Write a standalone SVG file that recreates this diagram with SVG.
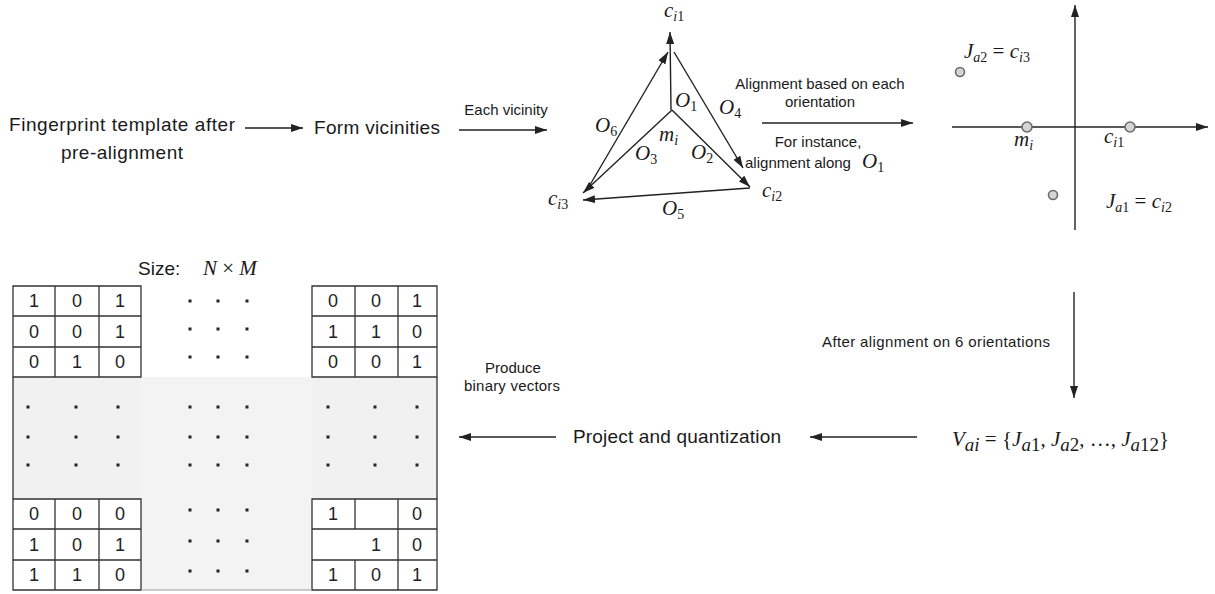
<svg xmlns="http://www.w3.org/2000/svg" width="1215" height="594" viewBox="0 0 1215 594">
<style>
.t{font-family:"Liberation Sans",Arial,sans-serif;font-size:19px;fill:#1a1a1a}
.s{font-family:"Liberation Sans",Arial,sans-serif;font-size:15px;fill:#1a1a1a}
.m{font-family:"Liberation Serif","Times New Roman",serif;font-style:italic;font-size:21px;fill:#1a1a1a}
.sub{font-size:14px}
.up{font-style:normal}
.ar{stroke:#222;stroke-width:1.4;fill:none;marker-end:url(#ah)}
.grid{stroke:#333;stroke-width:1.3;fill:none}
.d{font-family:"Liberation Sans",Arial,sans-serif;font-size:18px;fill:#222;text-anchor:middle}
.pt{fill:#d4d4d4;stroke:#6a6a6a;stroke-width:1.6}
.dot{fill:#222}
.c{text-anchor:middle}
</style>
<defs>
<marker id="ah" viewBox="0 0 12 8" refX="12" refY="4" markerWidth="12" markerHeight="8" markerUnits="userSpaceOnUse" orient="auto"><path d="M0,0 L12,4 L0,8 z" fill="#222"/></marker>
</defs>
<rect width="1215" height="594" fill="#fff"/>

<g id="template">
<text class="t c" x="122" y="131" textLength="226">Fingerprint template after</text>
<text class="t c" x="122" y="159" textLength="122">pre-alignment</text>
</g>

<g id="form-vicinities">
<text class="t c" x="377" y="134" textLength="126">Form vicinities</text>
</g>

<g id="vicinity">
<line class="ar" x1="671" y1="110" x2="670" y2="32"/>
<line class="ar" x1="672" y1="110" x2="750" y2="187"/>
<line class="ar" x1="672" y1="110" x2="583" y2="193"/>
<line class="ar" x1="674" y1="52" x2="743" y2="168"/>
<line class="ar" x1="750" y1="188" x2="583" y2="200"/>
<line class="ar" x1="587" y1="190" x2="668" y2="52"/>
<text class="m" x="664" y="17" font-size="20">c<tspan class="sub" dy="4">i</tspan><tspan class="sub up">1</tspan></text>
<text class="m" x="675" y="107">O<tspan class="sub up" dy="4">1</tspan></text>
<text class="m" x="719" y="114">O<tspan class="sub up" dy="4">4</tspan></text>
<text class="m" x="595" y="132">O<tspan class="sub up" dy="4">6</tspan></text>
<text class="m" x="659" y="141" font-size="19">m<tspan class="sub" dy="4">i</tspan></text>
<text class="m" x="635" y="160">O<tspan class="sub up" dy="4">3</tspan></text>
<text class="m" x="691" y="159">O<tspan class="sub up" dy="4">2</tspan></text>
<text class="m" x="548" y="205">c<tspan class="sub" dy="4">i</tspan><tspan class="sub up">3</tspan></text>
<text class="m" x="762" y="197">c<tspan class="sub" dy="4">i</tspan><tspan class="sub up">2</tspan></text>
<text class="m" x="662" y="215">O<tspan class="sub up" dy="4">5</tspan></text>
</g>

<g id="aligned-plot">
<line class="ar" x1="1075" y1="230" x2="1075" y2="5"/>
<line class="ar" x1="952" y1="127" x2="1208" y2="127"/>
<circle class="pt" cx="960" cy="72" r="4.5"/>
<circle class="pt" cx="1027" cy="127" r="5"/>
<circle class="pt" cx="1130" cy="127" r="5"/>
<circle class="pt" cx="1053" cy="195" r="4.5"/>
<text class="m" x="964" y="58" font-size="22">J<tspan class="sub" dy="4">a</tspan><tspan class="sub up">2</tspan><tspan class="up" dy="-4"> = </tspan>c<tspan class="sub" dy="4">i</tspan><tspan class="sub up">3</tspan></text>
<text class="m" x="1014" y="146" font-size="22">m<tspan class="sub" dy="4">i</tspan></text>
<text class="m" x="1104" y="143" font-size="22">c<tspan class="sub" dy="4">i</tspan><tspan class="sub up">1</tspan></text>
<text class="m" x="1106" y="208" font-size="22">J<tspan class="sub" dy="4">a</tspan><tspan class="sub up">1</tspan><tspan class="up" dy="-4"> = </tspan>c<tspan class="sub" dy="4">i</tspan><tspan class="sub up">2</tspan></text>
</g>

<g id="vector">
<text class="m" x="952" y="446" font-size="30">V<tspan font-size="19" dy="5">ai</tspan><tspan class="up" dy="-5"> = {</tspan>J<tspan font-size="19" dy="5">a</tspan><tspan font-size="19" class="up">1</tspan><tspan class="up" dy="-5">, </tspan>J<tspan font-size="19" dy="5">a</tspan><tspan font-size="19" class="up">2</tspan><tspan class="up" dy="-5">, …, </tspan>J<tspan font-size="19" dy="5">a</tspan><tspan font-size="19" class="up">12</tspan><tspan class="up" dy="-5">}</tspan></text>
</g>

<g id="project">
<text class="t c" x="677" y="443" textLength="208">Project and quantization</text>
</g>

<g id="matrix">
<text class="t" x="138" y="275">Size:</text>
<text class="m" x="203" y="275" font-size="24">N<tspan class="up"> × </tspan>M</text>
<rect x="13" y="377" width="424" height="122" fill="#f1f1f1"/>
<rect x="141" y="377" width="171" height="213" fill="#f3f3f3"/>
<path class="grid" d="M13,286H141V377H13Z M55,286V377 M99,286V377 M13,316H141 M13,347H141"/>
<path class="grid" d="M312,286H437V377H312Z M355,286V377 M398,286V377 M312,316H437 M312,347H437"/>
<path class="grid" d="M13,499H141V590H13Z M55,499V590 M99,499V590 M13,529H141 M13,560H141"/>
<path class="grid" d="M312,499H437V590H312Z M355,499V529 M355,560V590 M398,499V590 M312,529H437 M312,560H437"/>
<path class="grid" d="M13,377V499 M437,377V499"/>
<path d="M141,590H312" stroke="#999" stroke-width="1.2"/>
<text class="d" x="34" y="307">1</text><text class="d" x="77" y="307">0</text><text class="d" x="120" y="307">1</text>
<text class="d" x="34" y="338">0</text><text class="d" x="77" y="338">0</text><text class="d" x="120" y="338">1</text>
<text class="d" x="34" y="368">0</text><text class="d" x="77" y="368">1</text><text class="d" x="120" y="368">0</text>
<text class="d" x="333" y="307">0</text><text class="d" x="376" y="307">0</text><text class="d" x="417" y="307">1</text>
<text class="d" x="333" y="338">1</text><text class="d" x="376" y="338">1</text><text class="d" x="417" y="338">0</text>
<text class="d" x="333" y="368">0</text><text class="d" x="376" y="368">0</text><text class="d" x="417" y="368">1</text>
<text class="d" x="34" y="520">0</text><text class="d" x="77" y="520">0</text><text class="d" x="120" y="520">0</text>
<text class="d" x="34" y="551">1</text><text class="d" x="77" y="551">0</text><text class="d" x="120" y="551">1</text>
<text class="d" x="34" y="581">1</text><text class="d" x="77" y="581">1</text><text class="d" x="120" y="581">0</text>
<text class="d" x="333" y="520">1</text><text class="d" x="417" y="520">0</text>
<text class="d" x="376" y="551">1</text><text class="d" x="417" y="551">0</text>
<text class="d" x="333" y="581">1</text><text class="d" x="376" y="581">0</text><text class="d" x="417" y="581">1</text>
<g class="dot">
<rect x="188.5" y="299.5" width="3" height="3"/><rect x="216.5" y="299.5" width="3" height="3"/><rect x="245.5" y="299.5" width="3" height="3"/>
<rect x="188.5" y="327.5" width="3" height="3"/><rect x="216.5" y="327.5" width="3" height="3"/><rect x="245.5" y="327.5" width="3" height="3"/>
<rect x="188.5" y="355.5" width="3" height="3"/><rect x="216.5" y="355.5" width="3" height="3"/><rect x="245.5" y="355.5" width="3" height="3"/>
<rect x="26.5" y="405.5" width="3" height="3"/><rect x="74.5" y="405.5" width="3" height="3"/><rect x="116.5" y="405.5" width="3" height="3"/>
<rect x="188.5" y="405.5" width="3" height="3"/><rect x="216.5" y="405.5" width="3" height="3"/><rect x="245.5" y="405.5" width="3" height="3"/>
<rect x="326.5" y="405.5" width="3" height="3"/><rect x="373.5" y="405.5" width="3" height="3"/><rect x="415.5" y="405.5" width="3" height="3"/>
<rect x="26.5" y="435.5" width="3" height="3"/><rect x="74.5" y="435.5" width="3" height="3"/><rect x="116.5" y="435.5" width="3" height="3"/>
<rect x="188.5" y="435.5" width="3" height="3"/><rect x="216.5" y="435.5" width="3" height="3"/><rect x="245.5" y="435.5" width="3" height="3"/>
<rect x="326.5" y="435.5" width="3" height="3"/><rect x="373.5" y="435.5" width="3" height="3"/><rect x="415.5" y="435.5" width="3" height="3"/>
<rect x="26.5" y="463.5" width="3" height="3"/><rect x="74.5" y="463.5" width="3" height="3"/><rect x="116.5" y="463.5" width="3" height="3"/>
<rect x="188.5" y="463.5" width="3" height="3"/><rect x="216.5" y="463.5" width="3" height="3"/><rect x="245.5" y="463.5" width="3" height="3"/>
<rect x="326.5" y="463.5" width="3" height="3"/><rect x="373.5" y="463.5" width="3" height="3"/><rect x="415.5" y="463.5" width="3" height="3"/>
<rect x="188.5" y="508.5" width="3" height="3"/><rect x="216.5" y="508.5" width="3" height="3"/><rect x="245.5" y="508.5" width="3" height="3"/>
<rect x="188.5" y="539.5" width="3" height="3"/><rect x="216.5" y="539.5" width="3" height="3"/><rect x="245.5" y="539.5" width="3" height="3"/>
<rect x="188.5" y="569.5" width="3" height="3"/><rect x="216.5" y="569.5" width="3" height="3"/><rect x="245.5" y="569.5" width="3" height="3"/>
</g>
</g>

<g id="connectors">
<line class="ar" x1="245" y1="128" x2="303" y2="128"/>
<line class="ar" x1="459" y1="130" x2="547" y2="130"/>
<text class="s c" x="506" y="115">Each vicinity</text>
<line class="ar" x1="762" y1="123" x2="913" y2="123"/>
<text class="s c" x="820" y="89">Alignment based on each</text>
<text class="s c" x="820" y="107">orientation</text>
<text class="s c" x="818" y="147">For instance,</text>
<text class="s c" x="798" y="168">alignment along</text>
<text class="m" x="862" y="168" font-size="22">O<tspan class="sub up" dy="4">1</tspan></text>
<line class="ar" x1="1074" y1="292" x2="1074" y2="398"/>
<text class="s c" x="936" y="347" textLength="228">After alignment on 6 orientations</text>
<line class="ar" x1="917" y1="437" x2="810" y2="437"/>
<line class="ar" x1="556" y1="437" x2="459" y2="437"/>
<text class="s c" x="513" y="373" font-size="14">Produce</text>
<text class="s c" x="512" y="391" font-size="14" textLength="96">binary vectors</text>
</g>
</svg>
